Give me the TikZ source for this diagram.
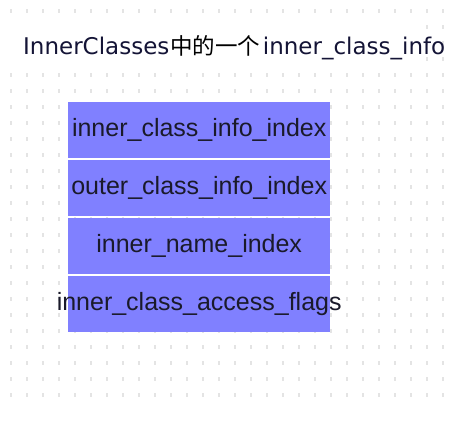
\documentclass[tikz,border=0pt]{standalone}
\usepackage{fontspec}
\setmainfont{Liberation Sans}
\newfontfamily\titlelatin{DejaVu Sans}
\newfontfamily\cjk{Noto Sans CJK SC}
\definecolor{boxblue}{HTML}{8080FF}
\definecolor{dotgray}{HTML}{E4E4E4}
\definecolor{titleink}{HTML}{141436}
\definecolor{boxink}{HTML}{1A1A2A}
\tikzset{
  fieldbox/.style={rectangle, fill=boxblue, draw=none, minimum width=262pt, minimum height=56pt,
    inner sep=0pt, anchor=north west, text=boxink,
    font=\fontsize{25}{28}\selectfont},
  griddot/.style={fill=dotgray},
}
\begin{document}
\begin{tikzpicture}[x=1pt,y=-1pt]
\useasboundingbox (0,0) rectangle (456,422);
\fill[white] (0,0) rectangle (456,422);
% dotted grid
\foreach \i in {0,...,27}{
  \foreach \j in {0,...,24}{
    \fill[griddot] ({11+16*\i-0.8},{11+16*\j-1.8}) rectangle ++(1.6,3.6);
  }
}
% white area behind the title
\fill[white] (0,19) rectangle (420,68);
\node[anchor=base west, inner sep=0pt] (title) at (23,55)
  {\fontsize{23}{26}\selectfont\color{titleink}\titlelatin InnerClasses\hspace{1pt}{\color{black}\cjk\fontsize{22.5}{26}\selectfont 中的一个}\hspace{2.5pt}inner\_class\_info};
% fields
\node[fieldbox] (b1) at (68,102) {\makebox[0pt]{inner\_class\_info\_index}};
\node[fieldbox] (b2) at (68,160) {\makebox[0pt]{outer\_class\_info\_index}};
\node[fieldbox] (b3) at (68,218) {\makebox[0pt]{inner\_name\_index}};
\node[fieldbox] (b4) at (68,276) {\makebox[0pt]{inner\_class\_access\_flags}};
\end{tikzpicture}
\end{document}
